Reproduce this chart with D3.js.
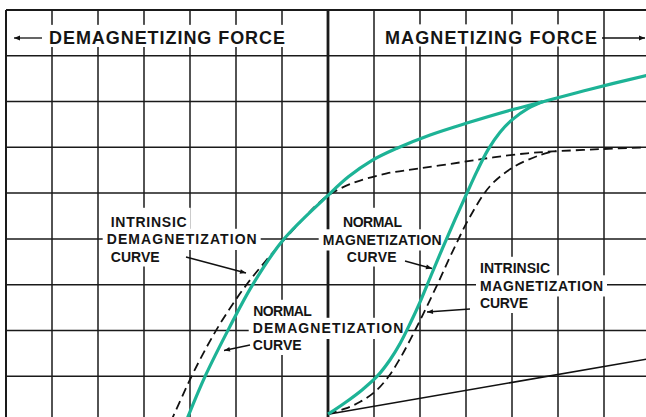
<!DOCTYPE html>
<html><head><meta charset="utf-8">
<script src="https://cdn.jsdelivr.net/npm/d3@7"></script>
<style>body{margin:0;background:#fff}svg{display:block}</style>
</head><body>
<svg id="c" width="646" height="417"></svg>
<script>
// ---- data (H in grid units, B in grid units) ----
const xGrid = d3.range(-7, 7);          // vertical grid lines
const yGrid = d3.range(1, 10);          // horizontal grid lines
const normalDemag = [[-3.09,0],[-2.67,1.0],[-2.15,2.05],[-1.65,2.98],[-0.98,3.97],[0,4.95],[0.45,5.36],[0.95,5.71],[1.5,5.98],[2.22,6.27],[3.02,6.53],[3.96,6.81],[4.61,6.98],[5.70,7.27],[6.92,7.57]];
const intrinsicDemag = [[-3.42,0],[-2.96,1.01],[-2.63,1.65],[-2.35,2.14],[-2.04,2.62],[-1.74,3.04],[-1.37,3.50],[-0.98,3.95],[-0.61,4.36],[-0.25,4.74],[0,4.95],[0.54,5.22],[1.28,5.43],[2.0,5.54],[2.87,5.67],[3.59,5.78],[4.33,5.87],[4.89,5.91],[5.91,5.96],[6.92,6.0]];
const normalMag = [[0,0.17],[0.37,0.42],[0.74,0.70],[1.07,1.0],[1.35,1.36],[1.57,1.72],[1.78,2.14],[2.0,2.62],[2.24,3.2],[2.5,3.82],[2.76,4.42],[3.02,5.0],[3.24,5.48],[3.48,5.95],[3.74,6.33],[4.0,6.6],[4.35,6.85],[4.67,7.0]];
const intrinsicMag = [[0,0.17],[0.37,0.29],[0.70,0.44],[1.02,0.66],[1.3,0.97],[1.55,1.36],[1.8,1.82],[2.05,2.32],[2.39,3.03],[2.72,3.75],[3.09,4.49],[3.52,5.15],[4.02,5.56],[4.61,5.83],[4.95,5.92]];
const loadLine = [[0,0.17],[6.92,1.37]];
const titleLeft = "DEMAGNETIZING FORCE";
const titleRight = "MAGNETIZING FORCE";
const label1 = ["INTRINSIC","DEMAGNETIZATION","CURVE"];
const label2 = ["NORMAL","DEMAGNETIZATION","CURVE"];
const label3 = ["NORMAL","MAGNETIZATION","CURVE"];
const label4 = ["INTRINSIC","MAGNETIZATION","CURVE"];

// ---- drawing ----
const W = 646, H = 417;
const svg = d3.select("#c");
const x = d3.scaleLinear().domain([-7, 6.913]).range([6, 646]);
const y = d3.scaleLinear().domain([1, 9]).range([376.2, 10]);
const TEAL = "#1db396";
const FONT = "'Liberation Sans', Arial, Helvetica, sans-serif";

svg.append("rect").attr("width", W).attr("height", H).attr("fill", "#fff");

const defs = svg.append("defs");
defs.append("marker").attr("id","ah").attr("viewBox","0 -5 10 10")
  .attr("refX",10).attr("refY",0).attr("markerUnits","userSpaceOnUse")
  .attr("markerWidth",9).attr("markerHeight",6).attr("orient","auto")
  .append("path").attr("d","M0,-4L10,0L0,4Z").attr("fill","#111");

const grid = svg.append("g");
grid.selectAll("line.v").data(xGrid).join("line")
  .attr("x1", d => x(d)).attr("x2", d => x(d)).attr("y1", y(9)).attr("y2", H)
  .attr("stroke", "#1a1a1a").attr("stroke-width", d => d === 0 ? 2.8 : (d === -7 ? 2 : 1.5));
grid.selectAll("line.h").data(yGrid).join("line")
  .attr("x1", x(-7)).attr("x2", W).attr("y1", d => y(d)).attr("y2", d => y(d))
  .attr("stroke", "#1a1a1a").attr("stroke-width", d => d === 9 ? 2 : 1.5);

const masks = svg.append("g");
const texts = svg.append("g").attr("font-family", FONT).attr("font-weight", "bold").attr("fill", "#151515");

function textBlock(lines, xs, baselines, widths, size, padTop, padBot) {
  lines.forEach((t, i) => {
    const cap = size * 0.73;
    masks.append("rect").attr("x", xs[i] - 4).attr("y", baselines[i] - cap - (i === 0 ? padTop : 5))
      .attr("width", widths[i] + 8).attr("height", cap + (i === 0 ? padTop : 5) + (i === lines.length - 1 ? padBot : 6))
      .attr("fill", "#fff");
    texts.append("text").attr("x", xs[i]).attr("y", baselines[i]).attr("font-size", size)
      .attr("textLength", widths[i]).attr("lengthAdjust", "spacing").text(t);
  });
}

// titles
textBlock([titleLeft], [49], [44], [236], 18, 6, 3);
textBlock([titleRight], [385], [43.5], [212], 18, 6, 3);
// labels
textBlock(label1, [110.7, 106.7, 110.7], [227, 244, 261.5], [76, 150, 49], 14, 9, 5);
textBlock(label2, [253.3, 252.7, 252.7], [316, 333, 350], [58.5, 150.6, 49], 14, 6, 5);
textBlock(label3, [343, 322.7, 346.7], [227, 244.5, 261.5], [59, 119, 50], 14, 9, 5);
textBlock(label4, [480, 480, 480], [273, 290.5, 308], [70, 123, 48], 14, 6, 5);

// curves
const line = d3.line().x(d => x(d[0])).y(d => y(d[1])).curve(d3.curveCatmullRom.alpha(0.5));
const curves = svg.append("g").attr("fill", "none");
curves.append("path").datum(loadLine).attr("d", line).attr("stroke", "#111").attr("stroke-width", 1.5);
curves.append("path").datum(intrinsicDemag).attr("d", line).attr("stroke", "#111").attr("stroke-width", 1.8).attr("stroke-dasharray", "9,5");
curves.append("path").datum(intrinsicMag).attr("d", line).attr("stroke", "#111").attr("stroke-width", 1.8).attr("stroke-dasharray", "9,5");
curves.append("path").datum(normalDemag).attr("d", line).attr("stroke", TEAL).attr("stroke-width", 3.2);
curves.append("path").datum(normalMag).attr("d", line).attr("stroke", TEAL).attr("stroke-width", 3.2);

// leaders / arrows
const arrows = svg.append("g").attr("stroke", "#111").attr("stroke-width", 1.3);
[[42,38,14,38],[602,38,645,38],[186,257,246,273],[250,345,224,350.5],[405,261,432,268.5],[470,309,427,312]]
  .forEach(a => arrows.append("line").attr("x1",a[0]).attr("y1",a[1]).attr("x2",a[2]).attr("y2",a[3]).attr("marker-end","url(#ah)"));
</script>
</body></html>
